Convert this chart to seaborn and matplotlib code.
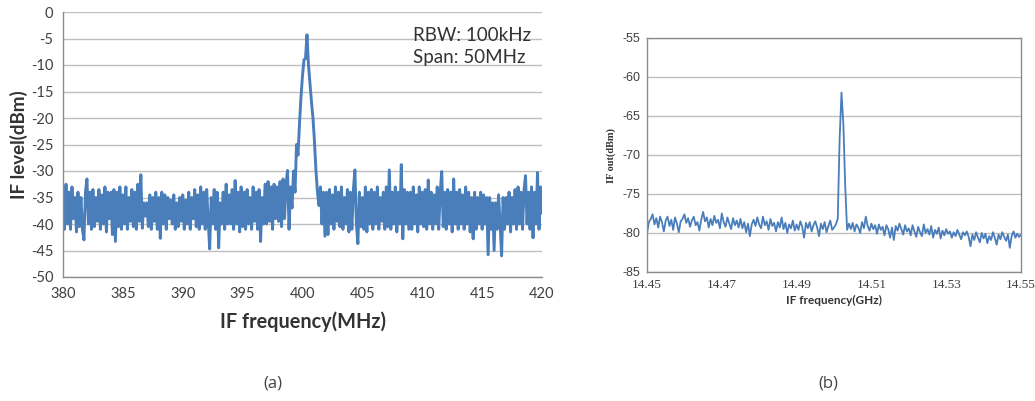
import numpy as np
import matplotlib
matplotlib.use("Agg")
import matplotlib.pyplot as plt
import seaborn as sns

# ---------------- data: panel (a) ----------------
freq_a_start, freq_a_stop = 380.0, 420.0
level_a = [
    -33, -41, -32.5, -40, -34, -41, -33, -39,
    -35, -41.5, -34, -40.5, -35, -41, -43, -34,
    -31.5, -40, -34, -41, -33.5, -40.5, -35, -39.5,
    -33.5, -41, -34.5, -40, -33, -41.5, -34, -39,
    -34, -42, -33.5, -43.3, -34, -40.5, -33, -41,
    -34.5, -40, -33, -41, -35, -39.5, -33.5, -40.5,
    -34, -41, -32.5, -39.5, -30.7, -40.8, -36, -38.5,
    -36, -40.5, -34.5, -41, -35, -39.5, -34, -41,
    -35, -42.7, -34, -40, -34.5, -41, -35, -39,
    -35.5, -40, -34.5, -41, -36, -40.5, -35, -39.5,
    -34.5, -41, -35.5, -40, -34, -41, -35, -39,
    -33.5, -40.5, -34.5, -41, -33, -40, -34, -41,
    -33.5, -39.5, -44.7, -35, -40, -33.5, -41, -34,
    -44.5, -36, -40, -34, -41, -32.5, -40, -34.5,
    -40, -33.5, -41, -31.8, -40, -34, -41.5, -33,
    -40.5, -34, -41, -33.5, -40, -35, -41, -33,
    -39.5, -34, -41, -33.5, -43.3, -35, -40, -32.5,
    -40, -32, -39.5, -33, -41, -32.5, -39, -33,
    -39.5, -32, -40.5, -31.5, -39, -32.5, -29.9, -41,
    -33, -37, -30, -34, -25, -27, -21, -16,
    -12, -9, -8.8, -4.3, -10, -13.5, -17, -20,
    -24.5, -30, -34, -36.5, -33, -40, -34, -42.3,
    -34, -42, -33.5, -40, -34.5, -41, -33, -39.5,
    -34, -40.5, -33, -41, -35, -40, -33.5, -41.5,
    -34, -41, -33.5, -29.8, -40, -43.7, -34, -40.5,
    -35, -41, -33, -41.5, -34, -40, -33.5, -41,
    -34, -40, -33, -41, -35, -39.5, -34, -41,
    -33, -40.5, -29.8, -41, -34, -40, -33, -41.5,
    -34, -40, -28.8, -42.8, -33.5, -40, -34, -41,
    -34, -41, -33, -40, -34.5, -41.5, -33, -40,
    -34, -40.5, -33.5, -41, -31.7, -40, -34, -41,
    -34.5, -40, -33, -41, -34, -30.1, -40.5, -34,
    -41, -33.5, -40, -34, -41.5, -31.5, -40, -34,
    -41, -33.5, -40, -34.5, -41, -33, -40, -34,
    -41.5, -35, -42.8, -34, -41, -35, -40, -34,
    -41, -34.5, -40, -35, -45.8, -35, -41, -36,
    -45, -36, -41, -34.5, -40, -46, -35, -41,
    -35, -40, -34, -41.5, -35, -40, -33.5, -41,
    -33, -40, -34, -41, -33.5, -30.9, -40, -34,
    -41, -33, -42.6, -34, -40, -30.3, -41, -33,
    -38,
]
xticks_a = [380, 385, 390, 395, 400, 405, 410, 415, 420]
yticks_a = [0, -5, -10, -15, -20, -25, -30, -35, -40, -45, -50]

# ---------------- data: panel (b) ----------------
freq_b_start, freq_b_stop = 14.45, 14.55
level_b = [
    -80.0, -78.6, -78.2, -77.6, -78.9, -78.1, -79.3, -77.9, -78.6, -79.8,
    -78.4, -77.9, -79.1, -78.3, -79.6, -78.0, -78.8, -79.9, -78.5, -78.2,
    -77.6, -78.7, -78.1, -79.2, -78.4, -77.9, -79.0, -78.6, -79.7, -78.3,
    -77.3, -78.5, -78.0, -79.3, -78.2, -79.0, -77.8, -78.7, -78.3, -79.4,
    -77.5, -78.6, -79.2, -78.0, -78.8, -79.5, -78.1, -79.0, -78.4, -79.3,
    -78.2, -79.4, -78.6, -79.9, -78.8, -80.4, -78.9, -78.3, -79.1, -78.0,
    -78.9, -79.4, -77.9, -79.0, -78.5, -79.6, -78.2, -79.1, -78.7, -79.8,
    -78.6, -79.3, -78.0, -79.5, -78.7, -80.0, -78.9, -79.4, -78.4, -79.7,
    -78.9, -79.6, -78.5, -79.2, -80.6, -78.7, -79.4, -78.6, -79.8, -79.0,
    -78.5, -79.3, -80.4, -78.8, -79.5, -78.6, -79.9, -79.1, -78.4, -79.6,
    -79.3, -78.9, -78.2, -68.0, -62.0, -66.0, -74.0, -79.6, -78.8, -79.5,
    -78.7, -79.8, -78.9, -79.3, -80.0, -78.6, -79.4, -77.9, -79.1, -79.7,
    -78.8, -79.5, -79.0, -80.1, -78.9, -79.6, -79.2, -80.3, -79.0, -79.5,
    -80.6, -79.3, -80.9, -79.1, -79.7, -78.8, -79.5, -80.2, -79.0, -79.8,
    -79.4, -80.3, -79.0, -79.8, -80.5, -79.2, -79.9, -80.4, -78.9, -80.0,
    -79.5, -80.2, -79.1, -80.6, -79.6, -80.1, -79.3, -80.7, -79.7, -80.3,
    -79.5, -80.1, -79.8, -80.6, -79.9, -80.4, -79.6, -80.2, -80.8, -79.9,
    -80.3, -79.8, -80.5, -81.7, -80.2, -80.9, -79.9, -80.6, -81.2, -80.0,
    -80.7, -80.1, -81.3, -80.4, -80.9, -79.9, -80.6, -81.5, -80.2, -80.8,
    -79.9, -80.5, -81.0, -80.2, -81.9, -80.4, -79.8, -80.6, -80.1, -80.5,
    -80.2,
]
xticks_b = [14.45, 14.47, 14.49, 14.51, 14.53, 14.55]
xticklabels_b = ["14.45", "14.47", "14.49", "14.51", "14.53", "14.55"]
yticks_b = [-55, -60, -65, -70, -75, -80, -85]

line_color = "#4A7EBB"
grid_color = "#BFBFBF"
spine_color = "#8C8C8C"
text_color = "#404040"

sns.set_theme(style="white")
plt.rcParams["font.family"] = ["Lato", "DejaVu Sans"]

fig = plt.figure(figsize=(10.35, 4.01), dpi=100)

# ---------------- panel (a) ----------------
ax1 = fig.add_axes([63 / 1035, 1 - 277 / 401, (542 - 63) / 1035, (277 - 12) / 401])
fa = np.linspace(freq_a_start, freq_a_stop, len(level_a))
sns.lineplot(x=fa, y=level_a, ax=ax1, color=line_color, linewidth=2.1, estimator=None, sort=False)
ax1.set_xlim(380, 420)
ax1.set_ylim(-50, 0)
ax1.set_xticks(xticks_a)
ax1.set_yticks(yticks_a)
ax1.set_xticklabels([str(t) for t in xticks_a])
ax1.set_yticklabels([str(t) for t in yticks_a])
ax1.yaxis.grid(True, color=grid_color, linewidth=1.0)
ax1.set_axisbelow(True)
for s in ["top", "right"]:
    ax1.spines[s].set_visible(False)
for s in ["left", "bottom"]:
    ax1.spines[s].set_color(spine_color)
    ax1.spines[s].set_linewidth(1.0)
ax1.tick_params(axis="both", which="major", direction="out", length=4, width=1,
                color=spine_color, labelsize=10.5, labelcolor=text_color, pad=3)
ax1.set_xlabel("IF frequency(MHz)", fontsize=14.3, fontweight="bold", color="#333333", labelpad=8)
ax1.set_ylabel("IF level(dBm)", fontsize=13.5, fontweight="bold", color="#333333", labelpad=2)
ax1.text(0.731, 0.912, "RBW: 100kHz", transform=ax1.transAxes, fontsize=13.5,
         color="#333333", va="center", ha="left")
ax1.text(0.731, 0.830, "Span: 50MHz", transform=ax1.transAxes, fontsize=13.5,
         color="#333333", va="center", ha="left")

# ---------------- panel (b) ----------------
ax2 = fig.add_axes([647 / 1035, 1 - 272 / 401, (1021 - 647) / 1035, (272 - 38) / 401])
fb = np.linspace(freq_b_start, freq_b_stop, len(level_b))
sns.lineplot(x=fb, y=level_b, ax=ax2, color=line_color, linewidth=1.3, estimator=None, sort=False)
ax2.set_xlim(14.45, 14.55)
ax2.set_ylim(-85, -55)
ax2.set_xticks(xticks_b)
ax2.set_xticklabels(xticklabels_b, family=["Liberation Serif", "DejaVu Serif"], fontsize=9.5)
ax2.set_yticks(yticks_b)
ax2.set_yticklabels([str(t) for t in yticks_b], family=["Liberation Sans", "DejaVu Sans"], fontsize=9)
ax2.yaxis.grid(True, color=grid_color, linewidth=1.0)
ax2.set_axisbelow(True)
for s in ["top", "right", "left", "bottom"]:
    ax2.spines[s].set_color(spine_color)
    ax2.spines[s].set_linewidth(1.0)
ax2.tick_params(axis="both", which="major", direction="out", length=3, width=1,
                color=spine_color, labelcolor=text_color, pad=2)
ax2.set_xlabel("IF frequency(GHz)", fontsize=8.5, fontweight="bold", color="#333333", labelpad=3)
ax2.set_ylabel("IF out(dBm)", fontsize=7.5, fontweight="bold", color="#333333", labelpad=4,
               family=["Liberation Serif", "DejaVu Serif"])

# ---------------- panel captions ----------------
fig.text(273 / 1035, 1 - 383 / 401, "(a)", fontsize=12, color="#444444", ha="center", va="center",
         family=["Open Sans", "DejaVu Sans"])
fig.text(828 / 1035, 1 - 383 / 401, "(b)", fontsize=12, color="#444444", ha="center", va="center",
         family=["Open Sans", "DejaVu Sans"])

fig.savefig("out.png", dpi=100)
